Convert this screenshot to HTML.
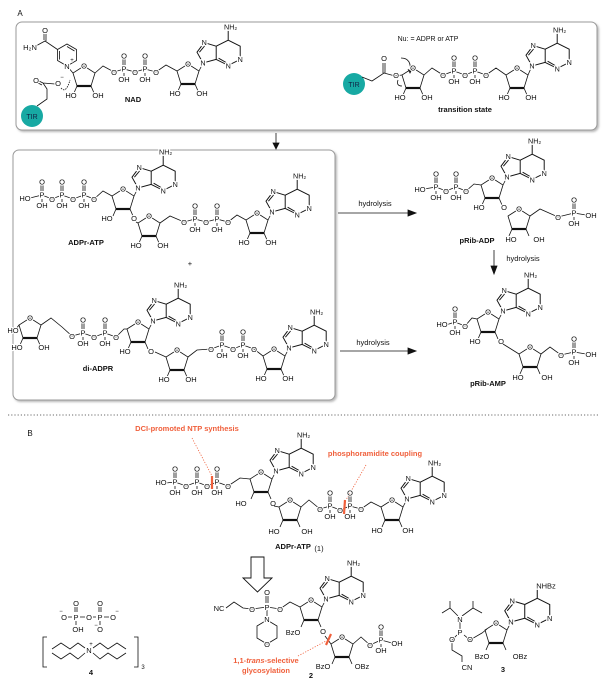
<!DOCTYPE html>
<html><head><meta charset="utf-8"><style>
html,body{margin:0;padding:0;background:#fff;}
svg{display:block;}
text{font-family:"Liberation Sans",sans-serif;font-size:7.5px;text-anchor:middle;fill:#111;paint-order:stroke;stroke:#fff;stroke-width:2.2px;stroke-linejoin:round;}
.b path,.b polygon,.b polyline,.b line{fill:none;stroke:#111;stroke-width:0.8;}
.lbl{font-weight:bold;font-size:7.5px;stroke:none;}
.red{fill:#f0603c;font-weight:bold;font-size:7.5px;stroke:none;}
.plain{stroke:none;}
.s{font-size:6px;}
</style></head><body>
<svg width="606" height="682" viewBox="0 0 606 682" xmlns="http://www.w3.org/2000/svg">
<defs>
<filter id="sh" x="-5%" y="-5%" width="110%" height="115%"><feDropShadow dx="1.5" dy="1.5" stdDeviation="1" flood-color="#999" flood-opacity="0.7"/></filter>
</defs>
<text x="20" y="16" class="plain" style="font-size:8px">A</text>
<rect x="16" y="22" width="581" height="108" rx="6" fill="#fff" stroke="#9a9a9a" stroke-width="1" filter="url(#sh)"/>
<rect x="13" y="150" width="322" height="250" rx="6" fill="#fff" stroke="#9a9a9a" stroke-width="1" filter="url(#sh)"/>
<line x1="8" y1="415" x2="600" y2="415" stroke="#888" stroke-width="1.2" stroke-dasharray="1.2,2"/>
<text x="30" y="436" class="plain" style="font-size:8px">B</text>

<g class="b">
<line x1="276" y1="133" x2="276" y2="145"/><path d="M273,143 L276,149 L279,143Z" style="fill:#111"/>
<line x1="338" y1="213" x2="410" y2="213"/><path d="M408,210 L416,213 L408,216Z" style="fill:#111"/>
<line x1="340" y1="351" x2="410" y2="351"/><path d="M408,348 L416,351 L408,354Z" style="fill:#111"/>
<line x1="494" y1="250" x2="494" y2="268"/><path d="M491,266 L494,274 L497,266Z" style="fill:#111"/>
<path d="M251,557 H264 V578 H272 L257.5,592 L243,578 H251 Z" style="stroke-width:0.9"/>

<!-- NAD -->
<polygon points="67,44 76.5,49.5 76.5,60.5 67,66 57.5,60.5 57.5,49.5"/>
<path d="M59.5,51 V59.5 M67,46.5 L74.5,51"/>
<path d="M57.5,49.5 L45,41 L34,47 M44,40 V31 M46,41 V31"/>
<text x="45" y="33">O</text><text x="30" y="50">H₂N</text>
<path d="M67,66 L73,73"/>
<text x="67" y="69">N</text><text x="72" y="62" class="s">+</text>
<circle cx="32" cy="116" r="11" style="fill:#17a9a3;stroke:none"/>
<text x="32" y="119" class="plain" style="font-size:7px;fill:#124">TIR</text>
<path d="M37,106 L47,99 L47,89 L43,83 M43,83 L37,80 M42,85 L36,82 M43,83 L55,84"/>
<text x="36" y="83">O</text><text x="58" y="86">O</text><text x="62" y="79" class="s">−</text>
<path d="M61,88 Q66,94 70,80" style="stroke-dasharray:1.5,1"/>
<g transform="translate(84,66)"><path d="M0,0L11,7L7,20L-7,20L-11,7Z M-7,20L-10,27 M7,20L10,27"/><path d="M-7,20H7" style="stroke-width:2.2"/><text y="2.5">O</text><text x="-13" y="32">HO</text><text x="14" y="32">OH</text></g>
<polyline points="95,73 103,66 114,72 124,69 135,72 145,69 156,72 166,65 177,71"/>
<text x="114" y="75">O</text><text x="135" y="75">O</text><text x="156" y="75">O</text>
<g transform="translate(124,69)"><path d="M-1,-4V-10M1,-4V-10M0,4V7"/><text y="2.5">P</text><text y="-10.5">O</text><text y="13">OH</text></g>
<g transform="translate(145,69)"><path d="M-1,-4V-10M1,-4V-10M0,4V7"/><text y="2.5">P</text><text y="-10.5">O</text><text y="13">OH</text></g>
<g transform="translate(188,64)"><path d="M0,0L11,7L7,20L-7,20L-11,7Z M-7,20L-10,27 M7,20L10,27"/><path d="M-7,20H7" style="stroke-width:2.2"/><text y="2.5">O</text><text x="-13" y="32">HO</text><text x="14" y="32">OH</text></g>
<path d="M199,71 L203,63"/>
<g transform="translate(203,63) scale(1.2)"><path d="M0,0L-5,-9L1,-17L11,-14L11,-3Z M11,-3L21,2L31,-3L31,-14L21,-19L11,-14 M21,-19V-27 M-3,-9L2,-15 M13,-4L20,0"/><text x="0" y="2" class="s">N</text><text x="1" y="-15" class="s">N</text><text x="21" y="4.5" class="s">N</text><text x="31" y="-1" class="s">N</text><text x="23" y="-28" class="s">NH₂</text></g>
<text x="133" y="102" class="lbl">NAD</text>

<!-- Transition state -->
<text x="428" y="41" class="plain" style="font-size:7px">Nu:  = ADPR or ATP</text>
<circle cx="354" cy="84" r="11" style="fill:#17a9a3;stroke:none"/>
<text x="354" y="87" class="plain" style="font-size:7px;fill:#124">TIR</text>
<path d="M362,77 L372,81 L384,73 M383,73 V63 M385,73 V63 M384,73 L395,76 L402,75"/>
<text x="384" y="61">O</text><text x="396" y="78">O</text>
<path d="M401,58 Q412,58 410,72" /><path d="M408,69 L410,73 L412,69" />
<path d="M398,80 Q396,86 402,86"/>
<g transform="translate(413,68)"><path d="M0,0L11,7L7,20L-7,20L-11,7Z M-7,20L-10,27 M7,20L10,27"/><path d="M-7,20H7" style="stroke-width:2.2"/><text y="2.5">O</text><text x="-13" y="32">HO</text><text x="14" y="32">OH</text></g>
<polyline points="424,75 432,68 443,75 454,71 465,75 475,71 486,75 496,68 506,75"/>
<text x="443" y="78">O</text><text x="465" y="78">O</text><text x="486" y="78">O</text>
<g transform="translate(454,71)"><path d="M-1,-4V-10M1,-4V-10M0,4V7"/><text y="2.5">P</text><text y="-10.5">O</text><text y="13">OH</text></g>
<g transform="translate(475,71)"><path d="M-1,-4V-10M1,-4V-10M0,4V7"/><text y="2.5">P</text><text y="-10.5">O</text><text y="13">OH</text></g>
<g transform="translate(517,68)"><path d="M0,0L11,7L7,20L-7,20L-11,7Z M-7,20L-10,27 M7,20L10,27"/><path d="M-7,20H7" style="stroke-width:2.2"/><text y="2.5">O</text><text x="-13" y="32">HO</text><text x="14" y="32">OH</text></g>
<path d="M528,75 L532,66"/>
<g transform="translate(532,66) scale(1.2)"><path d="M0,0L-5,-9L1,-17L11,-14L11,-3Z M11,-3L21,2L31,-3L31,-14L21,-19L11,-14 M21,-19V-27 M-3,-9L2,-15 M13,-4L20,0"/><text x="0" y="2" class="s">N</text><text x="1" y="-15" class="s">N</text><text x="21" y="4.5" class="s">N</text><text x="31" y="-1" class="s">N</text><text x="23" y="-28" class="s">NH₂</text></g>
<text x="465" y="112" class="lbl">transition state</text>

<!-- ADPr-ATP box -->
<polyline points="30,198 42,195 52,199 62,195 73,199 84,195 94,199 103,191 112,196"/>
<text x="25" y="201">HO</text><text x="52" y="202">O</text><text x="73" y="202">O</text><text x="94" y="202">O</text>
<g transform="translate(42,195)"><path d="M-1,-4V-10M1,-4V-10M0,4V7"/><text y="2.5">P</text><text y="-10.5">O</text><text y="13">OH</text></g>
<g transform="translate(62,195)"><path d="M-1,-4V-10M1,-4V-10M0,4V7"/><text y="2.5">P</text><text y="-10.5">O</text><text y="13">OH</text></g>
<g transform="translate(84,195)"><path d="M-1,-4V-10M1,-4V-10M0,4V7"/><text y="2.5">P</text><text y="-10.5">O</text><text y="13">OH</text></g>
<g transform="translate(123,189)"><path d="M0,0L11,7L7,20L-7,20L-11,7Z M-7,20L-10,27 M7,20L10,27"/><path d="M-7,20H7" style="stroke-width:2.2"/><text y="2.5">O</text><text x="-16" y="32">HO</text><text x="11" y="32">O</text></g>
<path d="M134,196 L138,188"/>
<g transform="translate(138,188) scale(1.2)"><path d="M0,0L-5,-9L1,-17L11,-14L11,-3Z M11,-3L21,2L31,-3L31,-14L21,-19L11,-14 M21,-19V-27 M-3,-9L2,-15 M13,-4L20,0"/><text x="0" y="2" class="s">N</text><text x="1" y="-15" class="s">N</text><text x="21" y="4.5" class="s">N</text><text x="31" y="-1" class="s">N</text><text x="23" y="-28" class="s">NH₂</text></g>
<path d="M136,222 L138,223"/>
<g transform="translate(149,216)"><path d="M0,0L11,7L7,20L-7,20L-11,7Z M-7,20L-10,27 M7,20L10,27"/><path d="M-7,20H7" style="stroke-width:2.2"/><text y="2.5">O</text><text x="-13" y="32">HO</text><text x="14" y="32">OH</text></g>
<polyline points="160,223 170,216 184,222 195,219 206,222 217,219 228,222 237,215 246,220"/>
<text x="184" y="225">O</text><text x="206" y="225">O</text><text x="228" y="225">O</text>
<g transform="translate(195,219)"><path d="M-1,-4V-10M1,-4V-10M0,4V7"/><text y="2.5">P</text><text y="-10.5">O</text><text y="13">OH</text></g>
<g transform="translate(217,219)"><path d="M-1,-4V-10M1,-4V-10M0,4V7"/><text y="2.5">P</text><text y="-10.5">O</text><text y="13">OH</text></g>
<g transform="translate(257,213)"><path d="M0,0L11,7L7,20L-7,20L-11,7Z M-7,20L-10,27 M7,20L10,27"/><path d="M-7,20H7" style="stroke-width:2.2"/><text y="2.5">O</text><text x="-13" y="32">HO</text><text x="14" y="32">OH</text></g>
<path d="M268,220 L272,212"/>
<g transform="translate(272,212) scale(1.2)"><path d="M0,0L-5,-9L1,-17L11,-14L11,-3Z M11,-3L21,2L31,-3L31,-14L21,-19L11,-14 M21,-19V-27 M-3,-9L2,-15 M13,-4L20,0"/><text x="0" y="2" class="s">N</text><text x="1" y="-15" class="s">N</text><text x="21" y="4.5" class="s">N</text><text x="31" y="-1" class="s">N</text><text x="23" y="-28" class="s">NH₂</text></g>
<text x="86" y="245" class="lbl">ADPr-ATP</text>
<text x="190" y="266" class="plain">+</text>

<!-- di-ADPR -->
<g transform="translate(30,318)"><path d="M0,0L11,7L7,20L-7,20L-11,7Z M-7,20L-10,27 M7,20L10,27 M-11,7L-14,11"/><path d="M-7,20H7" style="stroke-width:2.2"/><text y="2.5">O</text><text x="-13" y="32">HO</text><text x="14" y="32">OH</text><text x="-17" y="15">HO</text></g>
<polyline points="41,325 51,318 62,327 72,336 83,333 94,337 105,333 116,337 124,329 127,329"/>
<text x="72" y="339">O</text><text x="94" y="340">O</text><text x="116" y="340">O</text>
<g transform="translate(83,333)"><path d="M-1,-4V-10M1,-4V-10M0,4V7"/><text y="2.5">P</text><text y="-10.5">O</text><text y="13">OH</text></g>
<g transform="translate(105,333)"><path d="M-1,-4V-10M1,-4V-10M0,4V7"/><text y="2.5">P</text><text y="-10.5">O</text><text y="13">OH</text></g>
<g transform="translate(138,322)"><path d="M0,0L11,7L7,20L-7,20L-11,7Z M-7,20L-10,27 M7,20L10,27"/><path d="M-7,20H7" style="stroke-width:2.2"/><text y="2.5">O</text><text x="-13" y="32">HO</text><text x="13" y="32">O</text></g>
<path d="M149,329 L153,321"/>
<g transform="translate(153,321) scale(1.2)"><path d="M0,0L-5,-9L1,-17L11,-14L11,-3Z M11,-3L21,2L31,-3L31,-14L21,-19L11,-14 M21,-19V-27 M-3,-9L2,-15 M13,-4L20,0"/><text x="0" y="2" class="s">N</text><text x="1" y="-15" class="s">N</text><text x="21" y="4.5" class="s">N</text><text x="31" y="-1" class="s">N</text><text x="23" y="-28" class="s">NH₂</text></g>
<path d="M155,352 L166,357"/>
<g transform="translate(177,350)"><path d="M0,0L11,7L7,20L-7,20L-11,7Z M-7,20L-10,27 M7,20L10,27"/><path d="M-7,20H7" style="stroke-width:2.2"/><text y="2.5">O</text><text x="-13" y="32">HO</text><text x="14" y="32">OH</text></g>
<polyline points="188,357 197,350 211,349 222,345 233,349 243,345 254,349 263,356"/>
<text x="211" y="352">O</text><text x="233" y="352">O</text><text x="254" y="352">O</text>
<g transform="translate(222,345)"><path d="M-1,-4V-10M1,-4V-10M0,4V7"/><text y="2.5">P</text><text y="-10.5">O</text><text y="13">OH</text></g>
<g transform="translate(243,345)"><path d="M-1,-4V-10M1,-4V-10M0,4V7"/><text y="2.5">P</text><text y="-10.5">O</text><text y="13">OH</text></g>
<g transform="translate(274,349)"><path d="M0,0L11,7L7,20L-7,20L-11,7Z M-7,20L-10,27 M7,20L10,27"/><path d="M-7,20H7" style="stroke-width:2.2"/><text y="2.5">O</text><text x="-13" y="32">HO</text><text x="14" y="32">OH</text></g>
<path d="M285,356 L289,348"/>
<g transform="translate(289,348) scale(1.2)"><path d="M0,0L-5,-9L1,-17L11,-14L11,-3Z M11,-3L21,2L31,-3L31,-14L21,-19L11,-14 M21,-19V-27 M-3,-9L2,-15 M13,-4L20,0"/><text x="0" y="2" class="s">N</text><text x="1" y="-15" class="s">N</text><text x="21" y="4.5" class="s">N</text><text x="31" y="-1" class="s">N</text><text x="23" y="-28" class="s">NH₂</text></g>
<text x="98" y="371" class="lbl">di-ADPR</text>

<!-- pRib-ADP -->
<text x="375" y="206" class="plain">hydrolysis</text>
<polyline points="424,189 436,187 446,191 456,187 466,191 474,184 481,185"/>
<text x="420" y="192">HO</text><text x="446" y="194">O</text><text x="466" y="194">O</text>
<g transform="translate(436,187)"><path d="M-1,-4V-10M1,-4V-10M0,4V7"/><text y="2.5">P</text><text y="-10.5">O</text><text y="13">OH</text></g>
<g transform="translate(456,187)"><path d="M-1,-4V-10M1,-4V-10M0,4V7"/><text y="2.5">P</text><text y="-10.5">O</text><text y="13">OH</text></g>
<g transform="translate(492,178)"><path d="M0,0L11,7L7,20L-7,20L-11,7Z M-7,20L-10,27 M7,20L10,27"/><path d="M-7,20H7" style="stroke-width:2.2"/><text y="2.5">O</text><text x="-13" y="32">HO</text><text x="12" y="32">O</text></g>
<path d="M503,185 L507,177"/>
<g transform="translate(507,177) scale(1.2)"><path d="M0,0L-5,-9L1,-17L11,-14L11,-3Z M11,-3L21,2L31,-3L31,-14L21,-19L11,-14 M21,-19V-27 M-3,-9L2,-15 M13,-4L20,0"/><text x="0" y="2" class="s">N</text><text x="1" y="-15" class="s">N</text><text x="21" y="4.5" class="s">N</text><text x="31" y="-1" class="s">N</text><text x="23" y="-28" class="s">NH₂</text></g>
<g transform="translate(519,209)"><path d="M0,0L11,7L7,20L-7,20L-11,7Z M-7,20L-10,27 M7,20L10,27"/><path d="M-7,20H7" style="stroke-width:2.2"/><text y="2.5">O</text><text x="-8" y="33">HO</text><text x="20" y="33">OH</text></g>
<polyline points="530,216 540,209 558,217 574,213 586,215"/>
<text x="558" y="220">O</text><text x="591" y="218">OH</text>
<g transform="translate(574,213)"><path d="M-1,-4V-10M1,-4V-10M0,4V7"/><text y="2.5">P</text><text y="-10.5">O</text><text y="13">OH</text></g>
<text x="477" y="243" class="lbl">pRib-ADP</text>
<text x="523" y="261" class="plain">hydrolysis</text>

<!-- pRib-AMP -->
<text x="373" y="345" class="plain">hydrolysis</text>
<polyline points="446,325 455,322 465,326 472,318 477,319"/>
<text x="442" y="327">HO</text><text x="465" y="329">O</text>
<g transform="translate(455,322)"><path d="M-1,-4V-10M1,-4V-10M0,4V7"/><text y="2.5">P</text><text y="-10.5">O</text><text y="13">OH</text></g>
<g transform="translate(488,312)"><path d="M0,0L11,7L7,20L-7,20L-11,7Z M-7,20L-10,27 M7,20L10,27"/><path d="M-7,20H7" style="stroke-width:2.2"/><text y="2.5">O</text><text x="-13" y="32">HO</text><text x="13" y="32">O</text></g>
<path d="M499,319 L503,311"/>
<g transform="translate(503,311) scale(1.2)"><path d="M0,0L-5,-9L1,-17L11,-14L11,-3Z M11,-3L21,2L31,-3L31,-14L21,-19L11,-14 M21,-19V-27 M-3,-9L2,-15 M13,-4L20,0"/><text x="0" y="2" class="s">N</text><text x="1" y="-15" class="s">N</text><text x="21" y="4.5" class="s">N</text><text x="31" y="-1" class="s">N</text><text x="23" y="-28" class="s">NH₂</text></g>
<path d="M503,344 L519,354"/>
<g transform="translate(530,347)"><path d="M0,0L11,7L7,20L-7,20L-11,7Z M-7,20L-10,27 M7,20L10,27"/><path d="M-7,20H7" style="stroke-width:2.2"/><text y="2.5">O</text><text x="-12" y="33">HO</text><text x="17" y="33">OH</text></g>
<polyline points="541,354 550,347 561,355 574,352 586,354"/>
<text x="561" y="358">O</text><text x="591" y="357">OH</text>
<g transform="translate(574,352)"><path d="M-1,-4V-10M1,-4V-10M0,4V7"/><text y="2.5">P</text><text y="-10.5">O</text><text y="13">OH</text></g>
<text x="488" y="386" class="lbl">pRib-AMP</text>

<!-- B: ADPr-ATP (1) -->
<text x="187" y="431" class="red">DCI-promoted NTP synthesis</text>
<line x1="192" y1="438" x2="212" y2="476" style="stroke:#f0603c;stroke-dasharray:1.2,1.5"/>
<text x="375" y="456" class="red">phosphoramidite coupling</text>
<line x1="366" y1="465" x2="346" y2="500" style="stroke:#f0603c;stroke-dasharray:1.2,1.5"/>
<polyline points="166,483 175,482 186,486 197,482 207,486 217,482 228,486 240,478 250,479"/>
<text x="161" y="485">HO</text><text x="186" y="489">O</text><text x="207" y="489">O</text><text x="228" y="489">O</text>
<g transform="translate(175,482)"><path d="M-1,-4V-10M1,-4V-10M0,4V7"/><text y="2.5">P</text><text y="-10.5">O</text><text y="13">OH</text></g>
<g transform="translate(197,482)"><path d="M-1,-4V-10M1,-4V-10M0,4V7"/><text y="2.5">P</text><text y="-10.5">O</text><text y="13">OH</text></g>
<g transform="translate(217,482)"><path d="M-1,-4V-10M1,-4V-10M0,4V7"/><text y="2.5">P</text><text y="-10.5">O</text><text y="13">OH</text></g>
<line x1="212" y1="476" x2="212" y2="489" style="stroke:#f0603c;stroke-width:2.2"/>
<g transform="translate(261,472)"><path d="M0,0L11,7L7,20L-7,20L-11,7Z M-7,20L-10,27 M7,20L10,27"/><path d="M-7,20H7" style="stroke-width:2.2"/><text y="2.5">O</text><text x="-20" y="34">HO</text><text x="12" y="34">O</text></g>
<path d="M272,479 L276,471"/>
<g transform="translate(276,471) scale(1.2)"><path d="M0,0L-5,-9L1,-17L11,-14L11,-3Z M11,-3L21,2L31,-3L31,-14L21,-19L11,-14 M21,-19V-27 M-3,-9L2,-15 M13,-4L20,0"/><text x="0" y="2" class="s">N</text><text x="1" y="-15" class="s">N</text><text x="21" y="4.5" class="s">N</text><text x="31" y="-1" class="s">N</text><text x="23" y="-28" class="s">NH₂</text></g>
<path d="M274,506 L279,507"/>
<g transform="translate(290,500)"><path d="M0,0L11,7L7,20L-7,20L-11,7Z M-7,20L-10,27 M7,20L10,27"/><path d="M-7,20H7" style="stroke-width:2.2"/><text y="2.5">O</text><text x="-16" y="34">HO</text><text x="17" y="34">OH</text></g>
<polyline points="301,507 309,500 320,509 330,506 340,510 350,506 361,509 371,502 381,507"/>
<text x="320" y="512">O</text><text x="340" y="513">O</text><text x="361" y="512">O</text>
<g transform="translate(330,506)"><path d="M-1,-4V-10M1,-4V-10M0,4V7"/><text y="2.5">P</text><text y="-10.5">O</text><text y="13">OH</text></g>
<g transform="translate(350,506)"><path d="M-1,-4V-10M1,-4V-10M0,4V7"/><text y="2.5">P</text><text y="-10.5">O</text><text y="13">OH</text></g>
<line x1="345" y1="500" x2="344" y2="514" style="stroke:#f0603c;stroke-width:2.2"/>
<g transform="translate(392,500)"><path d="M0,0L11,7L7,20L-7,20L-11,7Z M-7,20L-10,27 M7,20L10,27"/><path d="M-7,20H7" style="stroke-width:2.2"/><text y="2.5">O</text><text x="-15" y="33">HO</text><text x="16" y="33">OH</text></g>
<path d="M403,507 L407,499"/>
<g transform="translate(407,499) scale(1.2)"><path d="M0,0L-5,-9L1,-17L11,-14L11,-3Z M11,-3L21,2L31,-3L31,-14L21,-19L11,-14 M21,-19V-27 M-3,-9L2,-15 M13,-4L20,0"/><text x="0" y="2" class="s">N</text><text x="1" y="-15" class="s">N</text><text x="21" y="4.5" class="s">N</text><text x="31" y="-1" class="s">N</text><text x="23" y="-28" class="s">NH₂</text></g>
<text x="293" y="549" class="lbl">ADPr-ATP</text><text x="319" y="551" class="plain">(1)</text>

<!-- compound 4 -->
<path d="M68,617 H72 M80,617 H85 M93,617 H96 M104,617 H109 M75,612 V607 M77,612 V607 M99,612 V607 M101,612 V607 M76,621 V625 M100,621 V625"/>
<text x="64" y="620">O</text><text x="61" y="613" class="s">−</text>
<text x="76" y="620">P</text><text x="89" y="620">O</text><text x="100" y="620">P</text><text x="113" y="620">O</text><text x="117" y="613" class="s">−</text>
<text x="76" y="606">O</text><text x="100" y="606">O</text><text x="78" y="632">OH</text><text x="100" y="632">O</text><text x="96" y="627" class="s">−</text>
<path d="M47,637 H43 V667 H47 M134,637 H138 V667 H134"/>
<text x="143" y="669" class="plain" style="font-size:6px">3</text>
<path d="M85,648 L78,643 L70,649 L61,643 L52,649 M85,653 L78,659 L70,653 L61,659 L52,653 M93,648 L100,643 L108,649 L117,643 L126,649 M93,653 L100,659 L108,653 L117,659 L126,653"/>
<text x="89" y="653">N</text><text x="91" y="646" class="s">+</text>
<text x="91" y="675" class="lbl">4</text>

<!-- compound 2 -->
<polyline points="226,608 234,602 243,608 252,609 267,607 280,609 290,602 300,607"/>
<text x="219" y="611">NC</text><text x="252" y="612">O</text><text x="280" y="612">O</text>
<path d="M266,603 V596 M268,603 V596 M267,610 V616"/>
<text x="267" y="610">P</text><text x="267" y="595">O</text>
<polygon points="267,620 277,626 277,638 267,644 257,638 257,626"/>
<text x="267" y="622">N</text><text x="267" y="647">O</text>
<g transform="translate(311,600)"><path d="M0,0L11,7L7,20L-7,20L-11,7Z M-7,20L-10,27 M7,20L10,27"/><path d="M-7,20H7" style="stroke-width:2.2"/><text y="2.5">O</text><text x="-18" y="35">BzO</text><text x="12" y="34">O</text></g>
<path d="M322,607 L326,599"/>
<g transform="translate(326,599) scale(1.2)"><path d="M0,0L-5,-9L1,-17L11,-14L11,-3Z M11,-3L21,2L31,-3L31,-14L21,-19L11,-14 M21,-19V-27 M-3,-9L2,-15 M13,-4L20,0"/><text x="0" y="2" class="s">N</text><text x="1" y="-15" class="s">N</text><text x="21" y="4.5" class="s">N</text><text x="31" y="-1" class="s">N</text><text x="23" y="-28" class="s">NH₂</text></g>
<path d="M325,636 L331,644"/>
<g transform="translate(342,637)"><path d="M0,0L11,7L7,20L-7,20L-11,7Z M-7,20L-10,27 M7,20L10,27"/><path d="M-7,20H7" style="stroke-width:2.2"/><text y="2.5">O</text><text x="-19" y="32">BzO</text><text x="20" y="32">OBz</text></g>
<polyline points="353,644 361,637 370,645 381,640 392,643"/>
<text x="370" y="648">O</text><text x="397" y="646">OH</text>
<g transform="translate(381,640)"><path d="M-1,-4V-10M1,-4V-10M0,4V7"/><text y="2.5">P</text><text y="-10.5">O</text><text y="13">OH</text></g>
<line x1="326" y1="645" x2="331" y2="634" style="stroke:#f0603c;stroke-width:2.2"/>
<line x1="298" y1="656" x2="326" y2="641" style="stroke:#f0603c;stroke-dasharray:1.2,1.5"/>
<text x="266" y="663" class="red">1,1-<tspan font-style="italic">trans</tspan>-selective</text>
<text x="266" y="673" class="red">glycosylation</text>
<text x="311" y="678" class="lbl">2</text>

<!-- compound 3 -->
<path d="M458,616 L450,608 L442,613 M450,608 L450,601 M462,616 L473,608 L482,613 M473,608 L473,601 M460,622 V629 M457,635 L452,640 L452,650 L462,656 L462,662 M464,635 L470,640 L482,633 L487,629"/>
<text x="460" y="622">N</text><text x="460" y="635">P</text><text x="452" y="642">O</text><text x="470" y="642">O</text>
<text x="467" y="670">CN</text>
<g transform="translate(496,623)"><path d="M0,0L11,7L7,20L-7,20L-11,7Z M-7,20L-10,27 M7,20L10,27"/><path d="M-7,20H7" style="stroke-width:2.2"/><text y="2.5">O</text><text x="-14" y="36">BzO</text><text x="24" y="36">OBz</text></g>
<path d="M507,630 L511,622"/>
<g transform="translate(511,622) scale(1.25)"><path d="M0,0L-5,-9L1,-17L11,-14L11,-3Z M11,-3L21,2L31,-3L31,-14L21,-19L11,-14 M21,-19V-27 M-3,-9L2,-15 M13,-4L20,0"/><text x="0" y="2" class="s">N</text><text x="1" y="-15" class="s">N</text><text x="21" y="4.5" class="s">N</text><text x="31" y="-1" class="s">N</text><text x="28" y="-27" class="s">NHBz</text></g>
<text x="503" y="672" class="lbl">3</text>
</g>
</svg>
</body></html>
